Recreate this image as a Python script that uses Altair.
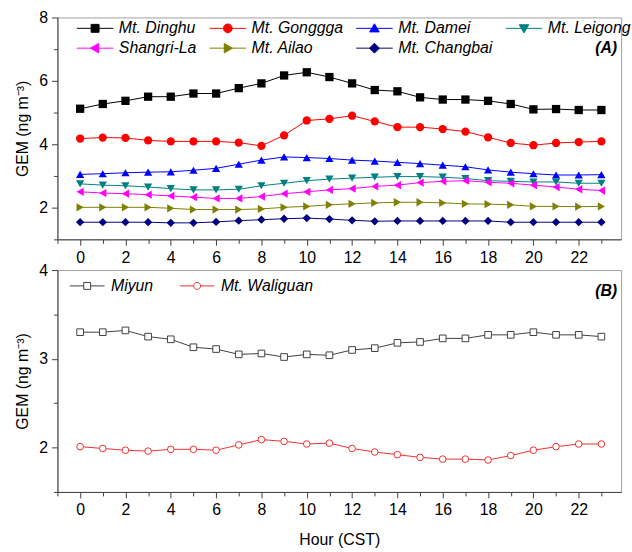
import altair as alt
import pandas as pd

FONT = "Liberation Sans"

hours = list(range(24))

# ---- Panel A data ----
series_a = ["Mt. Dinghu", "Mt. Gonggga", "Mt. Damei", "Mt. Leigong",
            "Shangri-La", "Mt. Ailao", "Mt. Changbai"]
dinghu = [5.12, 5.27, 5.37, 5.50, 5.50, 5.60, 5.60, 5.77, 5.92, 6.17, 6.27, 6.12,
          5.92, 5.71, 5.67, 5.48, 5.41, 5.41, 5.37, 5.27, 5.10, 5.11, 5.08, 5.08]
gonggga = [4.18, 4.21, 4.20, 4.12, 4.09, 4.09, 4.09, 4.05, 3.95, 4.28, 4.75, 4.80,
           4.90, 4.72, 4.54, 4.54, 4.48, 4.40, 4.22, 4.04, 3.97, 4.04, 4.07, 4.09]
damei = [3.05, 3.07, 3.10, 3.12, 3.13, 3.18, 3.24, 3.37, 3.50, 3.60, 3.58, 3.55,
         3.50, 3.47, 3.43, 3.39, 3.34, 3.29, 3.19, 3.12, 3.07, 3.03, 3.03, 3.04]
leigong = [2.75, 2.71, 2.69, 2.65, 2.60, 2.56, 2.56, 2.58, 2.69, 2.77, 2.85, 2.90,
           2.93, 2.96, 2.98, 2.98, 2.96, 2.92, 2.85, 2.83, 2.81, 2.81, 2.77, 2.77]
shangrila = [2.50, 2.46, 2.44, 2.41, 2.37, 2.33, 2.29, 2.29, 2.35, 2.44, 2.50, 2.56,
             2.60, 2.67, 2.71, 2.79, 2.83, 2.85, 2.80, 2.77, 2.71, 2.65, 2.58, 2.54]
ailao = [2.01, 2.01, 2.01, 2.01, 1.98, 1.94, 1.94, 1.94, 1.96, 2.01, 2.04, 2.09,
         2.12, 2.15, 2.17, 2.17, 2.15, 2.12, 2.11, 2.09, 2.04, 2.04, 2.03, 2.04]
changbai = [1.54, 1.54, 1.54, 1.54, 1.52, 1.52, 1.55, 1.59, 1.62, 1.65, 1.67, 1.64,
            1.60, 1.57, 1.58, 1.58, 1.58, 1.58, 1.58, 1.54, 1.54, 1.54, 1.54, 1.54]
values_a = [dinghu, gonggga, damei, leigong, shangrila, ailao, changbai]

# ---- Panel B data ----
series_b = ["Miyun", "Mt. Waliguan"]
miyun = [3.30, 3.30, 3.32, 3.25, 3.22, 3.13, 3.11, 3.05, 3.06, 3.02, 3.05, 3.04,
         3.10, 3.12, 3.18, 3.19, 3.23, 3.23, 3.27, 3.27, 3.30, 3.27, 3.27, 3.25]
waliguan = [2.01, 1.99, 1.97, 1.96, 1.98, 1.98, 1.97, 2.03, 2.09, 2.07, 2.04, 2.05,
            1.99, 1.95, 1.92, 1.89, 1.87, 1.87, 1.86, 1.91, 1.97, 2.01, 2.04, 2.04]
values_b = [miyun, waliguan]

# ---- ticks ----
x_major = list(range(0, 24, 2))
x_minor = list(range(-1, 24, 2))
y_major_a = [2, 4, 6, 8]
y_minor_a = [1, 3, 5, 7]
y_major_b = [2, 3, 4]
y_minor_b = [1.5, 2.5, 3.5]

# ---- styles ----
colors_a = ["#000000", "#ff0000", "#0000ff", "#008080", "#ff00ff", "#808000", "#000080"]
shapes_a = ["square", "circle", "triangle-up", "triangle-down",
            "triangle-left", "triangle-right", "diamond"]
stub_a = "M-4.6,0H4.6"
paths_a = [
    "M-1,-1H1V1H-1Z",
    "M-1.1,0A1.1,1.1,0,1,1,1.1,0A1.1,1.1,0,1,1,-1.1,0Z",
    "M0,-1.15L1.2,0.9L-1.2,0.9Z",
    "M0,1.15L1.2,-0.9L-1.2,-0.9Z",
    "M-1.15,0L0.9,-1.2L0.9,1.2Z",
    "M1.15,0L-0.9,-1.2L-0.9,1.2Z",
    "M0,-1.25L1.25,0L0,1.25L-1.25,0Z",
]
colors_b = ["#404040", "#f03030"]
shapes_b = ["square", "circle"]
stub_b = "M-5,0H-1M1,0H5"
paths_b = ["M-1,-1H1V1H-1Z", "M-1,0A1,1,0,1,1,1,0A1,1,0,1,1,-1,0Z"]

df_a = pd.DataFrame([
    {"hour": h, "gem": v, "site": s}
    for s, vals in zip(series_a, values_a) for h, v in zip(hours, vals)
])
df_b = pd.DataFrame([
    {"hour": h, "gem": v, "site": s}
    for s, vals in zip(series_b, values_b) for h, v in zip(hours, vals)
])


def chain(names, outs):
    expr = "'" + outs[-1] + "'"
    for n, o in reversed(list(zip(names[:-1], outs[:-1]))):
        expr = "datum.value === '" + n + "' ? '" + o + "' : (" + expr + ")"
    return expr


def make_encode(names, paths, stub, white_fill):
    upd = {"shape": {"signal": chain(names, [p + stub for p in paths])},
           "strokeWidth": {"value": 1}}
    if white_fill:
        upd["fill"] = {"value": "#ffffff"}
    return {"symbols": {"update": upd}}


LEGEND_ENCODES = {
    "legend-A": make_encode(series_a, paths_a, stub_a, False),
    "legend-B": make_encode(series_b, paths_b, stub_b, True),
}

XDOM = [-1, 23.87]
W = 569
H = 224


def x_axes(show_title):
    major = alt.Axis(values=x_major, tickSize=6, labelPadding=4, format="d", orient="bottom",
                     title="Hour (CST)" if show_title else None, titlePadding=14,
                     labelFlush=False)
    minor = alt.Axis(values=x_minor, tickSize=4, labels=False, domain=False, title=None,
                     orient="bottom")
    return major, minor


def y_axes(major_vals, minor_vals):
    major = alt.Axis(values=major_vals, tickSize=6, labelPadding=4, format="d", orient="left",
                     title="GEM (ng m\u207b\u00b3)", titlePadding=8)
    minor = alt.Axis(values=minor_vals, tickSize=4, labels=False, domain=False, title=None,
                     orient="left")
    return major, minor


def panel(df, names, colors, shapes, ydom, ymaj, ymin, show_xtitle,
          filled, size, legend_kw, tag, tag_y):
    xs = alt.Scale(domain=XDOM, nice=False, zero=False)
    ys = alt.Scale(domain=ydom, nice=False, zero=False)
    xmaj, xmin = x_axes(show_xtitle)
    ymj, ymn = y_axes(ymaj, ymin)
    cscale = alt.Scale(domain=names, range=colors)
    leg = alt.Legend(**legend_kw)

    base = alt.Chart(df)
    layers = [base.mark_line(strokeWidth=1).encode(
        x=alt.X("hour:Q", scale=xs, axis=xmaj),
        y=alt.Y("gem:Q", scale=ys, axis=ymj),
        color=alt.Color("site:N", scale=cscale, legend=leg),
    )]
    for i, (name, shp) in enumerate(zip(names, shapes)):
        if filled:
            pm = base.mark_point(filled=True, opacity=1, size=size, strokeWidth=1, shape=shp)
        else:
            pm = base.mark_point(filled=False, fill="white", fillOpacity=1, opacity=1,
                                 size=size, strokeWidth=1, shape=shp)
        layers.append(pm.transform_filter(alt.datum.site == name).encode(
            x=alt.X("hour:Q", scale=xs, axis=xmin if i == 0 else None),
            y=alt.Y("gem:Q", scale=ys, axis=ymn if i == 0 else None),
            color=alt.Color("site:N", scale=cscale, legend=leg),
        ))
    layers.append(alt.Chart(pd.DataFrame({"t": [tag]})).mark_text(
        font=FONT, fontSize=16, fontWeight="bold", fontStyle="italic",
        align="right", baseline="middle", color="black"
    ).encode(x=alt.value(565), y=alt.value(tag_y), text="t:N"))
    return alt.layer(*layers).resolve_axis(x="independent", y="independent").properties(
        width=W, height=H)


legend_a = dict(title=None, orient="none", legendX=30, legendY=3, direction="horizontal",
                columns=4, gridAlign="each", columnPadding=10, rowPadding=4, padding=0,
                symbolSize=64, symbolStrokeWidth=1, labelFont=FONT, labelFontSize=16,
                labelFontStyle="italic", labelOffset=16, labelColor="black",
                description="legend-A")
legend_b = dict(title=None, orient="none", legendX=22, legendY=8, direction="horizontal",
                columns=2, gridAlign="each", columnPadding=24, rowPadding=4, padding=0,
                symbolSize=49, symbolStrokeWidth=1, labelFont=FONT, labelFontSize=16,
                labelFontStyle="italic", labelOffset=16, labelColor="black",
                description="legend-B")

pa = panel(df_a, series_a, colors_a, shapes_a, [1, 8],
           y_major_a, y_minor_a, False, True, 70, legend_a, "(A)", 31)
pb = panel(df_b, series_b, colors_b, shapes_b, [1.5, 4],
           y_major_b, y_minor_b, True, False, 45, legend_b, "(B)", 21)

chart = alt.vconcat(pa, pb, spacing=31, bounds="flush").resolve_scale(
    color="independent", x="independent", y="independent"
).properties(
    padding={"left": 14, "top": 6, "right": 0, "bottom": 0}
).configure_view(stroke="#a0a0a0", strokeWidth=1).configure_axis(
    labelFont=FONT, labelFontSize=16, labelColor="black",
    titleFont=FONT, titleFontSize=16, titleFontWeight="normal", titleColor="black",
    domainColor="#404040", tickColor="#404040", grid=False
)


# Add a legend "encode" block (line-with-marker legend symbols) to the spec.
def _inject(obj):
    if isinstance(obj, dict):
        for k, v in obj.items():
            if k == "legend" and isinstance(v, dict) and v.get("description") in LEGEND_ENCODES:
                v["encode"] = LEGEND_ENCODES[v.pop("description")]
            else:
                _inject(v)
    elif isinstance(obj, list):
        for v in obj:
            _inject(v)


_orig_to_dict = type(chart).to_dict


def _to_dict_with_encode(self, *args, **kwargs):
    d = _orig_to_dict(self, *args, **kwargs)
    _inject(d)
    return d


type(chart).to_dict = _to_dict_with_encode

chart.save("out.html", embed_options={"renderer": "svg", "actions": False})
